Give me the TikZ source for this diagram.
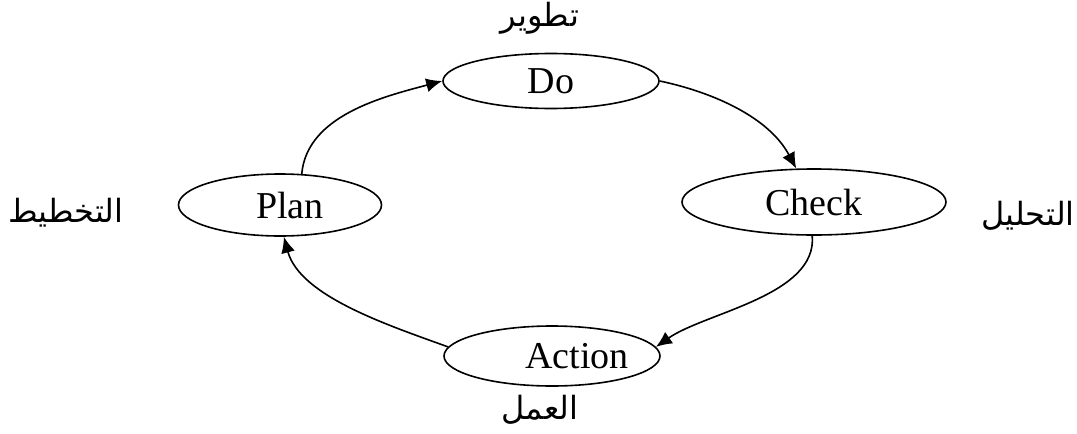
\documentclass[tikz,border=0pt]{standalone}
\usepackage{fontspec}
\setmainfont{Liberation Serif}
\newfontfamily\arabicfont[Script=Arabic]{DejaVu Sans}
\TeXXeTstate=1
\usetikzlibrary{shapes.geometric, arrows.meta}

\begin{document}
\begin{tikzpicture}[
  x=0.5pt, y=-0.5pt,
  stage/.style={ellipse, draw, line width=0.8pt, inner sep=0pt, font=\fontsize{19}{22}\selectfont},
  arlabel/.style={font=\arabicfont\fontsize{16}{20}\selectfont},
  cycle/.style={-{Latex[length=8pt, width=7pt]}, line width=0.8pt}
]
\useasboundingbox (0,0) rectangle (1077,434);

\node[stage, minimum width=108pt, minimum height=27.5pt] (do) at (551,81) {Do};
\node[stage, minimum width=101.5pt, minimum height=31pt] (plan) at (280,205) {\hspace*{10pt}Plan};
\node[stage, minimum width=132pt, minimum height=33pt] (check) at (814,202) {Check};
\node[stage, minimum width=108pt, minimum height=30pt,
      label={[xshift=12.5pt, font=\fontsize{19}{22}\selectfont]center:Action}] (action) at (552,356) {};

\node[arlabel] (tatwir) at (540,18) {\beginR تطوير\endR};
\node[arlabel] (takhtit) at (66,213) {\beginR التخطيط\endR};
\node[arlabel] (tahlil) at (1028,216) {\beginR التحليل\endR};
\node[arlabel] (amal) at (540,410) {\beginR العمل\endR};

\draw[cycle] (plan.55) to[out=85, in=195, looseness=0.9] (do.west);
\draw[cycle] (do.east) to[out=-12, in=118, looseness=0.9] (check.118);
\draw[cycle] (check.-93) to[out=-85, in=35, looseness=0.8] (action.5);
\draw[cycle] (action.175) to[out=160, in=-75, looseness=0.8] (plan.-83);
\end{tikzpicture}
\end{document}
